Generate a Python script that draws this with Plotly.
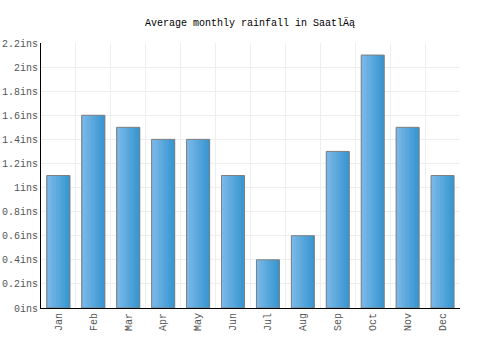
import plotly.graph_objects as go

months = ["Jan", "Feb", "Mar", "Apr", "May", "Jun", "Jul", "Aug", "Sep", "Oct", "Nov", "Dec"]
rainfall = [1.1, 1.6, 1.5, 1.4, 1.4, 1.1, 0.4, 0.6, 1.3, 2.1, 1.5, 1.1]
tick_vals = [0, 0.2, 0.4, 0.6, 0.8, 1.0, 1.2, 1.4, 1.6, 1.8, 2.0, 2.2]
tick_text = ["0ins", "0.2ins", "0.4ins", "0.6ins", "0.8ins", "1ins", "1.2ins",
             "1.4ins", "1.6ins", "1.8ins", "2ins", "2.2ins"]

FONT = "Liberation Mono"
bar_w = 0.66
n_slices = 14
c0 = (124, 185, 234)
c1 = (56, 150, 208)

fig = go.Figure()
for i in range(n_slices):
    t = i / (n_slices - 1)
    col = tuple(round(a + (b - a) * t) for a, b in zip(c0, c1))
    fig.add_trace(go.Bar(
        x=months, y=rainfall,
        width=bar_w / n_slices + 0.002,
        offset=-bar_w / 2 + i * bar_w / n_slices,
        marker=dict(color="rgb(%d,%d,%d)" % col, line=dict(width=0)),
        hoverinfo="skip", showlegend=False,
    ))
fig.add_trace(go.Bar(
    x=months, y=rainfall, width=bar_w, offset=-bar_w / 2,
    marker=dict(color="rgba(0,0,0,0)", line=dict(color="#7f7f7f", width=1)),
    showlegend=False,
))

fig.update_layout(
    width=500, height=350,
    margin=dict(l=41, r=40, t=43, b=42),
    paper_bgcolor="white", plot_bgcolor="white",
    barmode="overlay",
    title=dict(text="Average monthly rainfall in SaatlÄą", x=0.5, xanchor="center",
               y=1 - 22 / 350, yanchor="middle",
               font=dict(family=FONT, size=10, color="#000000")),
    font=dict(family=FONT, size=10, color="#555555"),
    xaxis=dict(
        type="category", tickson="boundaries", showgrid=True, gridcolor="#eeeeee",
        gridwidth=1, tickangle=-90, ticks="", showline=True, linecolor="#000000",
        linewidth=1, tickfont=dict(family=FONT, size=10, color="#555555"),
        range=[-0.5, 11.5], automargin=False,
    ),
    yaxis=dict(
        range=[0, 2.2], tickvals=tick_vals, ticktext=tick_text, showgrid=True,
        gridcolor="#eeeeee", gridwidth=1, showline=True, linecolor="#000000",
        linewidth=1, ticks="", zeroline=False, automargin=False,
        tickfont=dict(family=FONT, size=10, color="#555555"),
    ),
)

fig.write_html("out.html")
